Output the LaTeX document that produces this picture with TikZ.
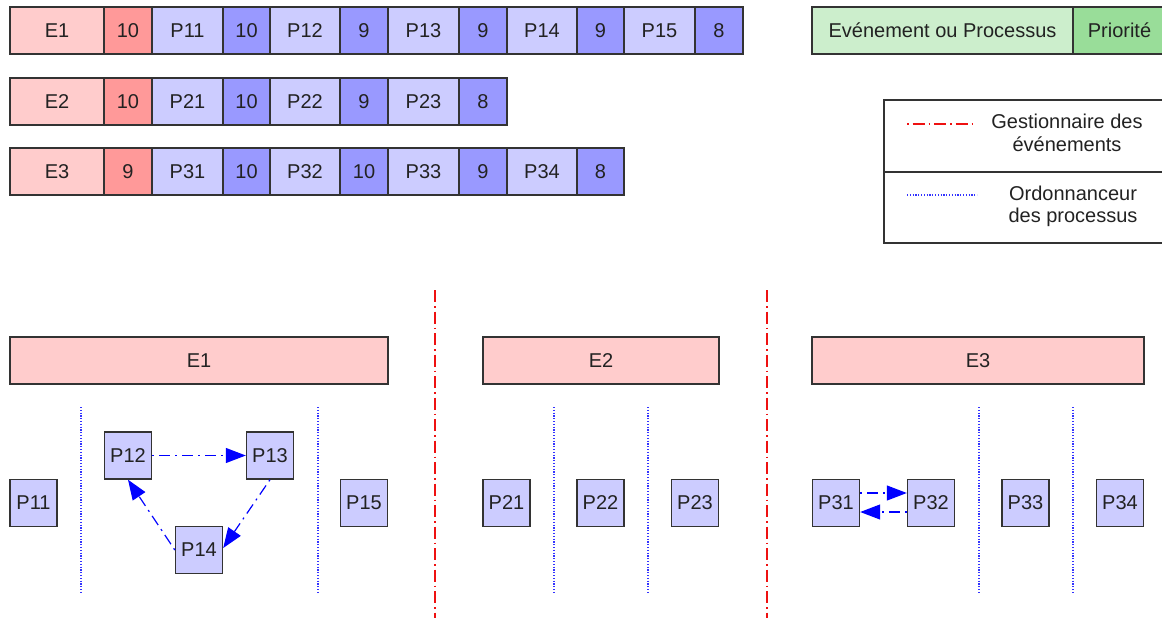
\documentclass[tikz,border=0pt]{standalone}
\usepackage{fontspec}
\setmainfont{Liberation Sans}
\usetikzlibrary{arrows.meta,calc}
\definecolor{evc}{HTML}{FFCCCC}
\definecolor{evpc}{HTML}{FF9999}
\definecolor{prc}{HTML}{CCCCFF}
\definecolor{prpc}{HTML}{9999FF}
\definecolor{lgc}{HTML}{CCEECC}
\definecolor{lgpc}{HTML}{99DD99}
\definecolor{bordc}{HTML}{333333}
\definecolor{txtc}{HTML}{222222}
\definecolor{redl}{HTML}{EE1111}
\definecolor{bluel}{HTML}{3333FF}
\begin{document}
\begin{tikzpicture}[x=1pt,y=-1pt,
  font=\fontsize{20}{22.5}\selectfont,
  cell/.style={draw=bordc,line width=1.4pt,text=txtc,minimum height=47pt,inner sep=0pt,anchor=center},
  ev/.style={cell,fill=evc},
  evp/.style={cell,fill=evpc},
  pr/.style={cell,fill=prc},
  prp/.style={cell,fill=prpc},
  proc/.style={cell,fill=prc,minimum width=47pt},
  sep/.style={draw=redl,line width=1.2pt,dash pattern=on 12pt off 4pt on 1.5pt off 4pt},
  sched/.style={draw=bluel,line width=1.2pt,dash pattern=on 1.2pt off 1.6pt},
  flow/.style={draw=blue,line width=1.2pt,dash pattern=on 2pt off 5pt on 11pt off 5pt,-{Triangle[length=20pt,width=15pt,sep=0pt]}}
]
\useasboundingbox (0,0) rectangle (1162,618);
% row 1
\node[ev,minimum width=94pt] (e1) at (57,30.5) {E1};
\node[evp,minimum width=48pt] (e1p) at (128,30.5) {10};
\node[pr,minimum width=71pt] (r11) at (187.5,30.5) {P11};
\node[prp,minimum width=47pt] (r11p) at (246.5,30.5) {10};
\node[pr,minimum width=70pt] (r12) at (305,30.5) {P12};
\node[prp,minimum width=48pt] (r12p) at (364,30.5) {9};
\node[pr,minimum width=71pt] (r13) at (423.5,30.5) {P13};
\node[prp,minimum width=48pt] (r13p) at (483,30.5) {9};
\node[pr,minimum width=70pt] (r14) at (542,30.5) {P14};
\node[prp,minimum width=47pt] (r14p) at (600.5,30.5) {9};
\node[pr,minimum width=71pt] (r15) at (659.5,30.5) {P15};
\node[prp,minimum width=48pt] (r15p) at (719,30.5) {8};
% row 2
\node[ev,minimum width=94pt] (e2) at (57,101.5) {E2};
\node[evp,minimum width=48pt] (e2p) at (128,101.5) {10};
\node[pr,minimum width=71pt] (r21) at (187.5,101.5) {P21};
\node[prp,minimum width=47pt] (r21p) at (246.5,101.5) {10};
\node[pr,minimum width=70pt] (r22) at (305,101.5) {P22};
\node[prp,minimum width=48pt] (r22p) at (364,101.5) {9};
\node[pr,minimum width=71pt] (r23) at (423.5,101.5) {P23};
\node[prp,minimum width=48pt] (r23p) at (483,101.5) {8};
% row 3
\node[ev,minimum width=94pt] (e3) at (57,171.5) {E3};
\node[evp,minimum width=48pt] (e3p) at (128,171.5) {9};
\node[pr,minimum width=71pt] (r31) at (187.5,171.5) {P31};
\node[prp,minimum width=47pt] (r31p) at (246.5,171.5) {10};
\node[pr,minimum width=70pt] (r32) at (305,171.5) {P32};
\node[prp,minimum width=48pt] (r32p) at (364,171.5) {10};
\node[pr,minimum width=71pt] (r33) at (423.5,171.5) {P33};
\node[prp,minimum width=48pt] (r33p) at (483,171.5) {9};
\node[pr,minimum width=70pt] (r34) at (542,171.5) {P34};
\node[prp,minimum width=47pt] (r34p) at (600.5,171.5) {8};
% legend top
\node[cell,fill=lgc,minimum width=261pt] (lg1) at (942.5,30.5) {Evénement ou Processus};
\node[cell,fill=lgpc,minimum width=93pt] (lg2) at (1119.5,30.5) {Priorité};
% legend box
\node[draw=bordc,line width=1.2pt,minimum width=282pt,minimum height=72pt,inner sep=0pt] (lb1) at (1025,136) {};
\node[draw=bordc,line width=1.2pt,minimum width=282pt,minimum height=71pt,inner sep=0pt] (lb2) at (1025,207.5) {};
\coordinate (ra) at (907,124);
\coordinate (rb) at (972,124);
\draw[draw=redl,line width=1.2pt,dash pattern=on 1.5pt off 4pt on 12pt off 4pt] (ra) -- (rb);
\coordinate (ba) at (907,195);
\coordinate (bb) at (977,195);
\draw[sched] (ba) -- (bb);
\node[text=txtc,align=center] (lt1) at (1067,133) {Gestionnaire des\\événements};
\node[text=txtc,align=center] (lt2) at (1073,206.5) {Ordonnanceur\\des processus};
% separators
\coordinate (s1a) at (435,290); \coordinate (s1b) at (435,618);
\coordinate (s2a) at (767,290); \coordinate (s2b) at (767,618);
\draw[sep] (s1a) -- (s1b);
\draw[sep] (s2a) -- (s2b);
\foreach \xx/\nm in {81/a,318/b,554/c,648/d,979/e,1073/f}{
  \coordinate (q\nm1) at (\xx,407); \coordinate (q\nm2) at (\xx,593);
  \draw[sched] (q\nm1) -- (q\nm2);
}
% bottom events
\node[ev,minimum width=378pt] (E1) at (199,360.5) {E1};
\node[ev,minimum width=236pt] (E2) at (601,360.5) {E2};
\node[ev,minimum width=332pt] (E3) at (978,360.5) {E3};
% processes
\node[proc] (P11) at (33.5,503) {P11};
\node[proc] (P12) at (128,455.5) {P12};
\node[proc] (P13) at (270,455.5) {P13};
\node[proc] (P14) at (199,550) {P14};
\node[proc] (P15) at (364,503) {P15};
\node[proc] (P21) at (506.5,503) {P21};
\node[proc] (P22) at (600.5,503) {P22};
\node[proc] (P23) at (695,503) {P23};
\node[proc] (P31) at (836,503) {P31};
\node[proc] (P32) at (931,503) {P32};
\node[proc] (P33) at (1025.5,503) {P33};
\node[proc] (P34) at (1120,503) {P34};
% flows
\draw[flow] (P12.east) -- (P13.west);
\draw[flow] (P13.south) -- ([yshift=2pt]P14.east);
\draw[flow] (P14.west) -- (P12.south);
\draw[flow] ([yshift=10pt]P31.east) -- ([yshift=10pt]P32.west);
\draw[flow] ([yshift=-9pt]P32.west) -- ([yshift=-9pt]P31.east);
\end{tikzpicture}
\end{document}
